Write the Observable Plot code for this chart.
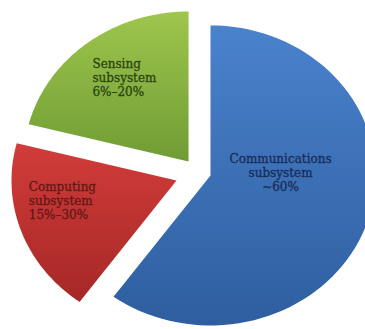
<!DOCTYPE html>
<html><head><meta charset="utf-8">
<script src="https://cdn.jsdelivr.net/npm/d3@7"></script>
<script src="https://cdn.jsdelivr.net/npm/@observablehq/plot@0.6"></script>
<style>body{margin:0;background:#fff}</style>
</head><body><div id="chart"></div>
<script>
// ---- data ----
const categories = ["Communications subsystem", "Computing subsystem", "Sensing subsystem"];
const shares = [60, 19, 21];
const labelLines = [
  ["Communications", "subsystem", "~60%"],
  ["Computing", "subsystem", "15%–30%"],
  ["Sensing", "subsystem", "6%–20%"]
];

// ---- styling / layout ----
const gradients = [
  ["#4a82cc", "#2e5e9f"],
  ["#d23c3a", "#a52826"],
  ["#9ec64d", "#6f9c34"]
];
const textColors = ["#1a2b58", "#621816", "#2a4411"];
const layout = {
  width: 365, height: 329, cx: 193, cy: 170, rx: 165, ry: 150,
  explode: [[0.103, -0.033], [-0.103, -0.067], [-0.030, 0.060]],
  label: [
    {angle: 87, r: 0.425, anchor: "middle"},
    {angle: 261.6, r: 0.905, anchor: "start"},
    {angle: 314, r: 0.81, anchor: "start"}
  ]
};

const arcs = d3.pie().sort(null).value(d => d)(shares);
const rad = Math.PI / 180;

const slicePoints = arcs.map((a, i) => {
  const [ex, ey] = layout.explode[i];
  const pts = [{x: ex, y: ey}];
  const n = 80;
  for (let k = 0; k <= n; k++) {
    const t = a.startAngle + (a.endAngle - a.startAngle) * k / n;
    pts.push({x: ex + Math.sin(t), y: ey + Math.cos(t)});
  }
  pts.push({x: ex, y: ey});
  return pts;
});

const labelPos = arcs.map((a, i) => {
  const [ex, ey] = layout.explode[i];
  const L = layout.label[i];
  return {
    x: ex + L.r * Math.sin(L.angle * rad),
    y: ey + L.r * Math.cos(L.angle * rad),
    text: labelLines[i].join("\n"),
    name: categories[i]
  };
});

const marks = [];
slicePoints.forEach((pts, i) => {
  marks.push(Plot.line(pts, {x: "x", y: "y", fill: `url(#grad${i})`, stroke: "none", curve: "linear"}));
});
labelPos.forEach((p, i) => {
  marks.push(Plot.text([p], {
    x: "x", y: "y", text: "text",
    textAnchor: layout.label[i].anchor, lineAnchor: "middle",
    lineHeight: 1.17, fontSize: 12, fill: textColors[i],
    stroke: textColors[i], strokeWidth: 0.3,
    fontFamily: "DejaVu Serif"
  }));
});

const chart = Plot.plot({
  width: layout.width, height: layout.height, margin: 0,
  x: {domain: [-1, 1], range: [layout.cx - layout.rx, layout.cx + layout.rx], axis: null},
  y: {domain: [-1, 1], range: [layout.cy + layout.ry, layout.cy - layout.ry], axis: null},
  style: {background: "white"},
  marks
});

const defs = d3.select(chart).insert("defs", ":first-child");
gradients.forEach(([c0, c1], i) => {
  const g = defs.append("linearGradient").attr("id", `grad${i}`)
    .attr("x1", 0).attr("y1", 0).attr("x2", 0).attr("y2", 1);
  g.append("stop").attr("offset", "0%").attr("stop-color", c0);
  g.append("stop").attr("offset", "100%").attr("stop-color", c1);
});

document.getElementById("chart").appendChild(chart);
</script>
</body></html>
